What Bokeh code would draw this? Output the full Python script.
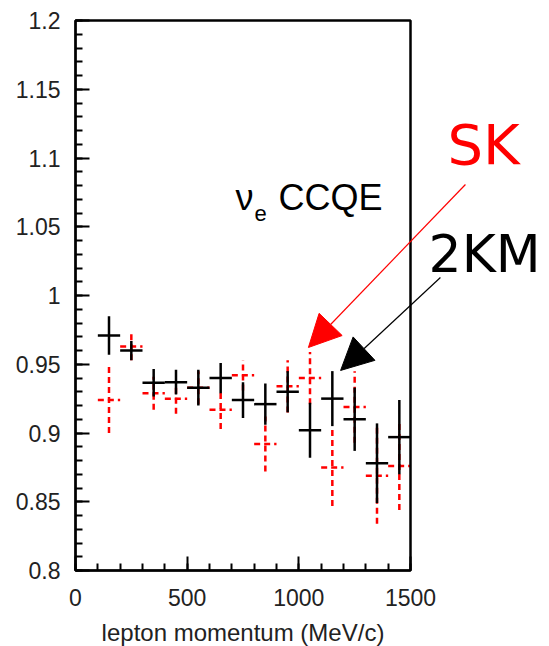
from bokeh.plotting import figure
from bokeh.models import FixedTicker, Label, Arrow, NormalHead, ColumnDataSource, BoxAnnotation
from bokeh.embed import file_html
from bokeh.resources import INLINE

# momentum bins (MeV/c), 100 MeV/c wide
bin_centers = [150, 250, 350, 450, 550, 650, 750, 850, 950, 1050, 1150, 1250, 1350, 1450]
half_width = 50

# near detector at 2 km (black, solid)
km2_ratio = [0.971, 0.960, 0.9365, 0.937, 0.933, 0.940, 0.924, 0.921, 0.930, 0.902, 0.925, 0.910, 0.878, 0.897]
km2_err = [0.014, 0.007, 0.010, 0.009, 0.013, 0.011, 0.013, 0.015, 0.015, 0.020, 0.020, 0.023, 0.029, 0.027]

# far detector SK (red, dashed)
sk_ratio = [0.924, 0.963, 0.929, 0.925, 0.933, 0.917, 0.942, 0.892, 0.934, 0.940, 0.875, 0.919, 0.869, 0.876]
sk_err = [0.024, 0.010, 0.012, 0.011, 0.012, 0.014, 0.011, 0.020, 0.019, 0.019, 0.028, 0.026, 0.035, 0.032]

x_major = [0, 500, 1000, 1500]
x_minor = [v for v in range(0, 1501, 100)]
y_major = [0.8, 0.85, 0.9, 0.95, 1.0, 1.05, 1.1, 1.15, 1.2]
y_minor = [round(0.8 + 0.01 * i, 2) for i in range(41)]
y_labels = {0.8: "0.8", 0.85: "0.85", 0.9: "0.9", 0.95: "0.95", 1.0: "1",
            1.05: "1.05", 1.1: "1.1", 1.15: "1.15", 1.2: "1.2"}

FONT = "Liberation Sans"
HAND = "DejaVu Sans"
TEXT_COLOR = "#222222"

# The data box spans 0..1500 x 0.8..1.2; the frame fills the whole canvas so the
# call-outs to the right of the box and below it can be drawn in data space.
X_PER_PX = 1500 / 335
Y_PER_PX = 0.4 / 550
x_view = (0 - 75 * X_PER_PX, 1500 + 139 * X_PER_PX)
y_view = (0.8 - 76 * Y_PER_PX, 1.2 + 20 * Y_PER_PX)

p = figure(width=549, height=646, x_range=x_view, y_range=y_view,
           output_backend="svg", toolbar_location=None,
           min_border_left=0, min_border_right=0, min_border_top=0, min_border_bottom=0)
p.grid.visible = False
p.background_fill_color = "white"
p.border_fill_color = "white"
p.outline_line_color = None

p.xaxis.ticker = FixedTicker(ticks=x_major, minor_ticks=x_minor)
p.yaxis.ticker = FixedTicker(ticks=y_major, minor_ticks=y_minor)
p.yaxis.major_label_overrides = y_labels
p.xaxis.fixed_location = 0.8
p.yaxis.fixed_location = 0
p.xaxis.bounds = (0, 1500)
p.yaxis.bounds = (0.8, 1.2)

for ax in (p.xaxis[0], p.yaxis[0]):
    ax.axis_line_color = "black"
    ax.axis_line_width = 2
    ax.major_tick_in = 14
    ax.major_tick_out = 0
    ax.minor_tick_in = 7
    ax.minor_tick_out = 0
    ax.major_tick_line_width = 2
    ax.minor_tick_line_width = 2
    ax.major_tick_line_color = "black"
    ax.minor_tick_line_color = "black"
    ax.major_label_text_font = FONT
    ax.major_label_text_font_size = "23px"
    ax.major_label_text_color = TEXT_COLOR

p.yaxis.major_label_standoff = 15
p.xaxis.major_label_standoff = 18
p.xaxis.axis_label = "lepton momentum (MeV/c)"
p.xaxis.axis_label_text_font = FONT
p.xaxis.axis_label_text_font_style = "normal"
p.xaxis.axis_label_text_font_size = "24px"
p.xaxis.axis_label_text_color = TEXT_COLOR
p.xaxis.axis_label_standoff = 10

# plot box
p.add_layout(BoxAnnotation(left=0, right=1500, bottom=0.8, top=1.2,
                           fill_color=None, line_color="black", line_alpha=1.0,
                           line_width=2.5))


def cross_source(xs, ys, errs):
    return ColumnDataSource(dict(
        x=xs, y=ys,
        x0=[x - half_width for x in xs], x1=[x + half_width for x in xs],
        y0=[y - e for y, e in zip(ys, errs)], y1=[y + e for y, e in zip(ys, errs)],
    ))


sk_src = cross_source(bin_centers, sk_ratio, sk_err)
km_src = cross_source(bin_centers, km2_ratio, km2_err)

# SK: dashed red error crosses
p.segment(x0="x", y0="y0", x1="x", y1="y1", source=sk_src,
          line_color="#ff0000", line_width=2.5, line_dash="6 4")
p.segment(x0="x0", y0="y", x1="x1", y1="y", source=sk_src,
          line_color="#ff0000", line_width=2.5, line_dash="6 4")

# 2KM: solid black error crosses
p.segment(x0="x", y0="y0", x1="x", y1="y1", source=km_src,
          line_color="black", line_width=2.5)
p.segment(x0="x0", y0="y", x1="x1", y1="y", source=km_src,
          line_color="black", line_width=2.5)

# channel label
p.add_layout(Label(x=716, y=1.0711, text="ν", text_font=FONT, text_font_size="36px",
                   text_color="black", text_baseline="alphabetic"))
p.add_layout(Label(x=802, y=1.0599, text="e", text_font=FONT, text_font_size="22px",
                   text_color="black", text_baseline="alphabetic"))
p.add_layout(Label(x=909, y=1.0711, text="CCQE", text_font=FONT, text_font_size="36px",
                   text_color="black", text_baseline="alphabetic"))

# detector call-outs
p.add_layout(Label(x=1666, y=1.1100, text="SK", text_font=HAND,
                   text_font_size="56px", text_color="#ff0000", text_baseline="alphabetic"))
p.add_layout(Label(x=1581, y=1.0304, text="2KM", text_font=HAND,
                   text_font_size="52px", text_color="black", text_baseline="alphabetic"))
p.add_layout(Arrow(x_start=1746, y_start=1.0807, x_end=1043, y_end=0.9622,
                   line_color="#ff0000", line_width=1.2,
                   end=NormalHead(size=32, fill_color="#ff0000", line_color="#ff0000")))
p.add_layout(Arrow(x_start=1634, y_start=1.0131, x_end=1187, y_end=0.9455,
                   line_color="black", line_width=1.2,
                   end=NormalHead(size=32, fill_color="black", line_color="black")))

p.add_layout(Label(x=1858, y=0.7291, text="T2K", text_font=HAND,
                   text_font_size="50px", text_color="black", text_baseline="alphabetic"))

open("out.html", "w").write(file_html(p, INLINE))
